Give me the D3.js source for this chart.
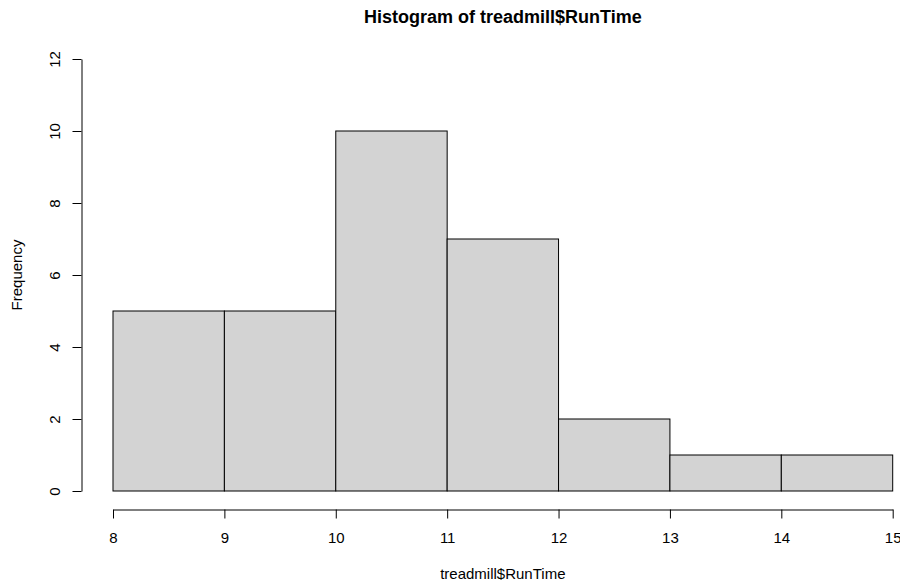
<!DOCTYPE html>
<html>
<head>
<meta charset="utf-8">
<script src="https://cdn.jsdelivr.net/npm/d3@7"></script>
<style>
body { margin:0; background:#fff; }
svg { display:block; font-family: "Liberation Sans", Arial, Helvetica, sans-serif; }
</style>
</head>
<body>
<svg id="chart" width="900" height="583"></svg>
<script>
const binStarts = [8, 9, 10, 11, 12, 13, 14];
const binEnds = [9, 10, 11, 12, 13, 14, 15];
const counts = [5, 5, 10, 7, 2, 1, 1];
const xTicks = [8, 9, 10, 11, 12, 13, 14, 15];
const yTicks = [0, 2, 4, 6, 8, 10, 12];
const titleText = "Histogram of treadmill$RunTime";
const xLabel = "treadmill$RunTime";
const yLabel = "Frequency";

const svg = d3.select("#chart");
const x = d3.scaleLinear().domain([8, 15]).range([113, 892.7]);
const y = d3.scaleLinear().domain([0, 12]).range([491, 59]);

svg.selectAll("rect.bar")
  .data(counts)
  .enter().append("rect")
  .attr("class", "bar")
  .attr("x", (d, i) => x(binStarts[i]))
  .attr("width", (d, i) => x(binEnds[i]) - x(binStarts[i]))
  .attr("y", d => y(d))
  .attr("height", d => y(0) - y(d))
  .attr("fill", "#d3d3d3")
  .attr("stroke", "#000")
  .attr("stroke-width", 1);

// X axis
const xAxis = d3.axisBottom(x).tickValues(xTicks).tickFormat(d3.format("d")).tickSize(9).tickSizeOuter(0);
const gx = svg.append("g").attr("transform", "translate(0,509.5)").call(xAxis);
gx.select(".domain").attr("stroke", "#000");
gx.selectAll(".tick line").attr("stroke", "#000");
gx.selectAll(".tick text")
  .attr("font-size", 15).attr("fill", "#000")
  .attr("font-family", "Liberation Sans, Arial, sans-serif")
  .attr("y", 33.5).attr("dy", 0);

// Y axis
const yAxis = d3.axisLeft(y).tickValues(yTicks).tickFormat(d3.format("d")).tickSize(9).tickSizeOuter(0);
const gy = svg.append("g").attr("transform", "translate(81.5,0)").call(yAxis);
gy.select(".domain").attr("stroke", "#000");
gy.selectAll(".tick line").attr("stroke", "#000");
gy.selectAll(".tick text")
  .attr("font-size", 15).attr("fill", "#000")
  .attr("font-family", "Liberation Sans, Arial, sans-serif")
  .attr("x", null)
  .attr("dy", 0)
  .attr("text-anchor", "middle")
  .attr("transform", "translate(-22,0) rotate(-90)");

svg.append("text")
  .attr("x", x(11.5)).attr("y", 23)
  .attr("text-anchor", "middle")
  .attr("font-size", 18).attr("font-weight", "bold")
  .text(titleText);

svg.append("text")
  .attr("x", x(11.5)).attr("y", 579)
  .attr("text-anchor", "middle")
  .attr("font-size", 15)
  .text(xLabel);

svg.append("text")
  .attr("transform", `translate(22,${(y(0)+y(12))/2}) rotate(-90)`)
  .attr("text-anchor", "middle")
  .attr("font-size", 15)
  .text(yLabel);
</script>
</body>
</html>
